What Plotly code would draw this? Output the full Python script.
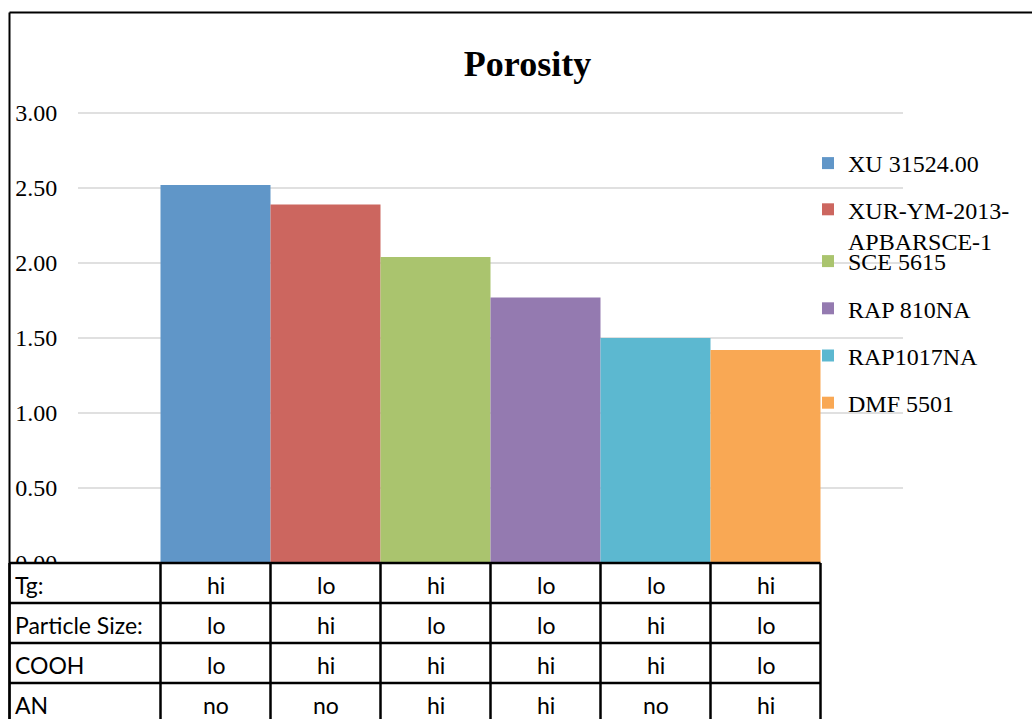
import plotly.graph_objects as go

# Porosity per material
materials = ["XU 31524.00", "XUR-YM-2013-<br>APBARSCE-1", "SCE 5615",
             "RAP 810NA", "RAP1017NA", "DMF 5501"]
porosity = [2.52, 2.39, 2.04, 1.77, 1.50, 1.42]
colors = ["#6096C8", "#CC665F", "#AAC46E", "#947AB0", "#5CB8D0", "#F9A854"]

# Property table under the bars
row_labels = ["Tg:", "Particle Size:", "COOH", "AN"]
row_values = [
    ["hi", "lo", "hi", "lo", "lo", "hi"],
    ["lo", "hi", "lo", "lo", "hi", "lo"],
    ["lo", "hi", "hi", "hi", "hi", "lo"],
    ["no", "no", "hi", "hi", "no", "hi"],
]
y_ticks = [0, 0.5, 1.0, 1.5, 2.0, 2.5, 3.0]

W, H = 1032, 719
ML, MR, MT, MB = 78, 129, 110, 156
PW, PH = W - ML - MR, H - MT - MB
Y_MAX = 3.02
BARGAP = 0.2

fig = go.Figure()
for i, (name, val, col) in enumerate(zip(materials, porosity, colors)):
    fig.add_trace(go.Bar(
        x=["Porosity"], y=[val], name=name, marker_color=col,
        marker_line_width=0, legendgroup=name,
        legend="legend" if i < 2 else "legend2",
    ))


def px_x(px):
    return (px - ML) / PW


def px_y(py):
    return (H - MB - py) / PH


# Table geometry derived from the bar layout
group_left = ML + PW * BARGAP / 2
bar_w = PW * (1 - BARGAP) / len(porosity)
col_edges = [group_left + i * bar_w for i in range(len(porosity) + 1)]
table_left = 9.5
table_top = H - MB
row_h = 40
n_rows = len(row_labels)
table_bottom = table_top + row_h * n_rows

shapes = []
# white table background (covers the 0.00 label below the baseline)
shapes.append(dict(type="rect", xref="paper", yref="paper", layer="above",
                   x0=px_x(table_left), x1=px_x(col_edges[-1]),
                   y0=px_y(table_bottom), y1=px_y(table_top),
                   fillcolor="white", line_width=0))
line_style = dict(color="black", width=2.5)
for r in range(n_rows + 1):
    yy = px_y(table_top + r * row_h)
    shapes.append(dict(type="line", xref="paper", yref="paper", layer="above",
                       x0=px_x(table_left), x1=px_x(col_edges[-1]),
                       y0=yy, y1=yy, line=line_style))
for xe in [table_left] + col_edges:
    shapes.append(dict(type="line", xref="paper", yref="paper", layer="above",
                       x0=px_x(xe), x1=px_x(xe),
                       y0=px_y(table_top), y1=px_y(table_bottom),
                       line=line_style))
# outer chart frame (left and top edges)
shapes.append(dict(type="line", xref="paper", yref="paper", layer="above",
                   x0=px_x(9.5), x1=px_x(9.5), y0=px_y(12.5), y1=px_y(H + 5),
                   line=dict(color="black", width=2)))
shapes.append(dict(type="line", xref="paper", yref="paper", layer="above",
                   x0=px_x(9.5), x1=px_x(W + 5), y0=px_y(12.5), y1=px_y(12.5),
                   line=dict(color="black", width=2)))

annotations = []
cell_font = dict(family="Lato, Liberation Sans", size=23, color="black")
for r, (lab, vals) in enumerate(zip(row_labels, row_values)):
    yc = px_y(table_top + r * row_h + row_h / 2 + 2)
    annotations.append(dict(text=lab, xref="paper", yref="paper",
                            x=px_x(table_left + 3), y=yc, xanchor="left",
                            yanchor="middle", showarrow=False, font=cell_font))
    for c, v in enumerate(vals):
        xc = px_x((col_edges[c] + col_edges[c + 1]) / 2)
        annotations.append(dict(text=v, xref="paper", yref="paper",
                                x=xc, y=yc, xanchor="center", yanchor="middle",
                                showarrow=False, font=cell_font))

legend_font = dict(family="Liberation Serif, Times New Roman", size=24,
                   color="black")
legend_common = dict(xanchor="left", yanchor="top", bgcolor="rgba(0,0,0,0)",
                     valign="top", font=legend_font)

fig.update_layout(
    width=W, height=H,
    margin=dict(l=ML, r=MR, t=MT, b=MB, pad=0),
    paper_bgcolor="white", plot_bgcolor="white",
    barmode="group", bargap=BARGAP, bargroupgap=0,
    title=dict(text="<b>Porosity</b>", xref="container", yref="container",
               x=527.5 / W, y=1 - 63 / H, xanchor="center", yanchor="middle",
               font=dict(family="Liberation Serif, Times New Roman", size=36,
                         color="black")),
    xaxis=dict(showticklabels=False, showgrid=False, zeroline=False,
               showline=False, ticks=""),
    yaxis=dict(range=[0, Y_MAX], tickvals=y_ticks, tickformat=".2f",
               showgrid=True, gridcolor="#E0E0E0", gridwidth=2,
               zeroline=False, showline=False,
               ticks="outside", ticklen=15, tickcolor="rgba(0,0,0,0)",
               tickfont=dict(family="Liberation Serif, Times New Roman",
                             size=24, color="black")),
    legend=dict(x=px_x(808), y=px_y(141), tracegroupgap=12, **legend_common),
    legend2=dict(x=px_x(808), y=px_y(239), tracegroupgap=13, **legend_common),
    shapes=shapes, annotations=annotations,
)

fig.write_html("out.html")
